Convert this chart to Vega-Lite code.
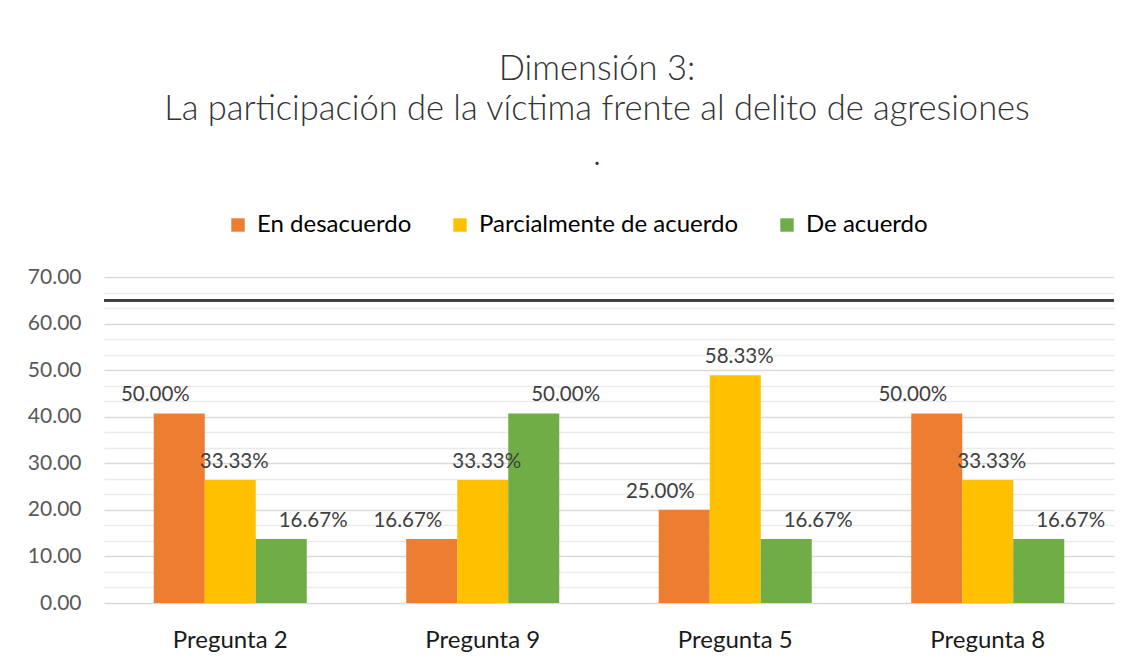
{
  "$schema": "https://vega.github.io/schema/vega-lite/v6.json",
  "width": 1010,
  "height": 326,
  "autosize": {"type": "none"},
  "padding": {"left": 104, "top": 277, "right": 18, "bottom": 58},
  "background": "white",
  "title": {
    "text": ["Dimensión 3:", "La participación de la víctima frente al delito de agresiones"],
    "subtitle": ".",
    "anchor": "middle",
    "frame": "group",
    "dx": -12,
    "offset": 41,
    "font": "Lato",
    "fontSize": 34.5,
    "fontWeight": 300,
    "color": "#333333",
    "lineHeight": 40,
    "subtitleFont": "Lato",
    "subtitleFontSize": 34.5,
    "subtitleFontWeight": 300,
    "subtitleColor": "#333333",
    "subtitlePadding": 10
  },
  "data": {
    "values": [
      {"pregunta": "Pregunta 2", "categoria": "En desacuerdo", "altura": 40.7, "porcentaje": 0.5},
      {"pregunta": "Pregunta 2", "categoria": "Parcialmente de acuerdo", "altura": 26.4, "porcentaje": 0.3333},
      {"pregunta": "Pregunta 2", "categoria": "De acuerdo", "altura": 13.75, "porcentaje": 0.1667},
      {"pregunta": "Pregunta 9", "categoria": "En desacuerdo", "altura": 13.75, "porcentaje": 0.1667},
      {"pregunta": "Pregunta 9", "categoria": "Parcialmente de acuerdo", "altura": 26.4, "porcentaje": 0.3333},
      {"pregunta": "Pregunta 9", "categoria": "De acuerdo", "altura": 40.7, "porcentaje": 0.5},
      {"pregunta": "Pregunta 5", "categoria": "En desacuerdo", "altura": 20.0, "porcentaje": 0.25},
      {"pregunta": "Pregunta 5", "categoria": "Parcialmente de acuerdo", "altura": 48.9, "porcentaje": 0.5833},
      {"pregunta": "Pregunta 5", "categoria": "De acuerdo", "altura": 13.75, "porcentaje": 0.1667},
      {"pregunta": "Pregunta 8", "categoria": "En desacuerdo", "altura": 40.7, "porcentaje": 0.5},
      {"pregunta": "Pregunta 8", "categoria": "Parcialmente de acuerdo", "altura": 26.4, "porcentaje": 0.3333},
      {"pregunta": "Pregunta 8", "categoria": "De acuerdo", "altura": 13.75, "porcentaje": 0.1667}
    ]
  },
  "layer": [
    {
      "mark": {"type": "bar"},
      "encoding": {
        "x": {
          "field": "pregunta", "type": "nominal",
          "sort": ["Pregunta 2", "Pregunta 9", "Pregunta 5", "Pregunta 8"],
          "scale": {"paddingInner": 0, "paddingOuter": 0},
          "axis": {
            "title": null, "labelAngle": 0, "domain": false, "ticks": false,
            "labelPadding": 25, "labelFont": "Lato", "labelFontSize": 24, "labelColor": "#1a1a1a"
          }
        },
        "xOffset": {
          "field": "categoria", "type": "nominal",
          "sort": ["En desacuerdo", "Parcialmente de acuerdo", "De acuerdo"],
          "scale": {"paddingInner": 0, "paddingOuter": 0.975}
        },
        "y": {
          "field": "altura", "type": "quantitative",
          "scale": {"domain": [0, 70], "nice": false},
          "axis": {
            "title": null,
            "tickCount": 40,
            "values": [0, 3.33, 6.67, 10, 13.33, 16.67, 20, 23.33, 26.67, 30, 33.33, 36.67, 40, 43.33, 46.67, 50, 53.33, 56.67, 60, 63.33, 66.67, 70],
            "labelExpr": "datum.value % 10 === 0 ? format(datum.value, '.2f') : ''",
            "labelOverlap": false,
            "grid": true,
            "gridColor": {"condition": {"test": "datum.value % 10 === 0", "value": "#d9d9d9"}, "value": "#ebebeb"},
            "gridWidth": 1.5,
            "domain": false, "ticks": false,
            "labelPadding": 23, "labelFont": "Lato", "labelFontSize": 21, "labelColor": "#595959"
          }
        },
        "color": {
          "field": "categoria", "type": "nominal",
          "scale": {
            "domain": ["En desacuerdo", "Parcialmente de acuerdo", "De acuerdo"],
            "range": ["#ED7D31", "#FFC000", "#70AD47"]
          },
          "legend": {
            "title": null, "orient": "none", "direction": "horizontal",
            "legendX": 122, "legendY": -64,
            "padding": 0, "symbolType": "square", "symbolSize": 180,
            "symbolStrokeWidth": 0, "labelFont": "Lato", "labelFontSize": 24,
            "labelColor": "#000000", "labelLimit": 400, "labelOffset": 7,
            "columnPadding": 36
          }
        }
      }
    },
    {
      "mark": {"type": "text", "dy": -18, "dx": 4, "baseline": "middle", "align": "center", "font": "Lato", "fontSize": 20.5, "color": "#404040"},
      "encoding": {
        "x": {"field": "pregunta", "type": "nominal", "sort": ["Pregunta 2", "Pregunta 9", "Pregunta 5", "Pregunta 8"]},
        "xOffset": {
          "field": "categoria", "type": "nominal",
          "sort": ["En desacuerdo", "Parcialmente de acuerdo", "De acuerdo"],
          "scale": {"paddingInner": 0, "paddingOuter": 0.6}
        },
        "y": {"field": "altura", "type": "quantitative"},
        "text": {"field": "porcentaje", "type": "quantitative", "format": ".2%"}
      }
    },
    {
      "mark": {"type": "rule", "color": "#404040", "strokeWidth": 2},
      "encoding": {"y": {"datum": 65}}
    }
  ],
  "resolve": {"scale": {"xOffset": "independent"}},
  "config": {
    "view": {"stroke": null},
    "font": "Lato"
  }
}
